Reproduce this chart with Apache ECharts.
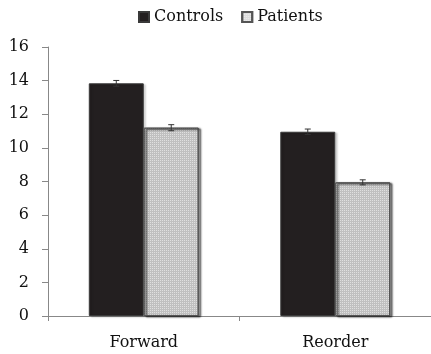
<!DOCTYPE html>
<html><head><meta charset="utf-8">
<script src="https://cdn.jsdelivr.net/npm/echarts@6/dist/echarts.min.js"></script>
<style>html,body{margin:0;padding:0;background:#fff}#c{width:431px;height:354px}</style>
</head><body><div id="c"></div>
<script>
const categories = ['Forward', 'Reorder'];
const controls = [13.84, 10.96];
const patients = [11.2, 7.95];
const controlsErr = [0.17, 0.16];
const patientsErr = [0.18, 0.15];
const seriesNames = ['Controls', 'Patients'];
const yTicks = [0, 2, 4, 6, 8, 10, 12, 14, 16];

const FONT = "'DejaVu Serif', serif";
const FS = 16;
const BAR_FRAC = 0.287;
const chart = echarts.init(document.getElementById('c'));

function errSeries(vals, errs, sideSign) {
  return {
    type: 'custom',
    silent: true,
    z: 5,
    data: vals.map((v, i) => [i, v, errs[i]]),
    renderItem: function (params, api) {
      const i = api.value(0), v = api.value(1), e = api.value(2);
      const bw = api.size([1, 0])[0] * BAR_FRAC;
      const c = api.coord([i, v]);
      const x = c[0] + sideSign * bw / 2;
      const yt = api.coord([i, v + e])[1];
      const yb = api.coord([i, v - e])[1];
      const cap = 3;
      const st = { stroke: '#333', lineWidth: 1 };
      return { type: 'group', children: [
        { type: 'line', shape: { x1: x, y1: yt, x2: x, y2: yb }, style: st },
        { type: 'line', shape: { x1: x - cap, y1: yt, x2: x + cap, y2: yt }, style: st },
        { type: 'line', shape: { x1: x - cap, y1: yb, x2: x + cap, y2: yb }, style: st }
      ]};
    }
  };
}

chart.setOption({
  animation: false,
  textStyle: { fontFamily: FONT },
  legend: {
    top: 4, left: 133, itemWidth: 10, itemHeight: 10, itemGap: 18, icon: 'rect',
    data: seriesNames,
    textStyle: { fontFamily: FONT, fontSize: FS, color: '#111' }
  },
  grid: { left: 48, right: -3, top: 47, bottom: 38 },
  xAxis: {
    type: 'category', data: categories,
    axisLine: { lineStyle: { color: '#888' } },
    axisTick: { show: true, length: 5, lineStyle: { color: '#888' }, alignWithLabel: false },
    axisLabel: { fontFamily: FONT, fontSize: FS, color: '#111', margin: 19 }
  },
  yAxis: {
    type: 'value', min: yTicks[0], max: yTicks[yTicks.length - 1], interval: 2,
    splitLine: { show: false },
    axisLine: { show: true, lineStyle: { color: '#888' } },
    axisTick: { show: true, length: 6, lineStyle: { color: '#888' } },
    axisLabel: { fontFamily: FONT, fontSize: FS, color: '#111', margin: 19 }
  },
  series: [
    { name: seriesNames[0], type: 'bar', data: controls, barWidth: (BAR_FRAC * 100) + '%', barGap: '0%',
      itemStyle: { color: '#231f20', borderColor: '#3a3a3a', borderWidth: 1,
        shadowBlur: 2, shadowOffsetX: 2, shadowOffsetY: 1, shadowColor: 'rgba(0,0,0,0.18)' } },
    { name: seriesNames[1], type: 'bar', data: patients, barWidth: (BAR_FRAC * 100) + '%', barGap: '0%',
      itemStyle: { color: '#dcdcdc', borderColor: '#555', borderWidth: 1,
        shadowBlur: 2, shadowOffsetX: 2, shadowOffsetY: 1, shadowColor: 'rgba(0,0,0,0.18)',
        decal: { symbol: 'rect', symbolSize: 1, color: 'rgba(255,255,255,0.5)', dashArrayX: [1, 1], dashArrayY: [1, 1], rotation: 0 } } },
    errSeries(controls, controlsErr, -1),
    errSeries(patients, patientsErr, 1)
  ]
});
</script></body></html>
